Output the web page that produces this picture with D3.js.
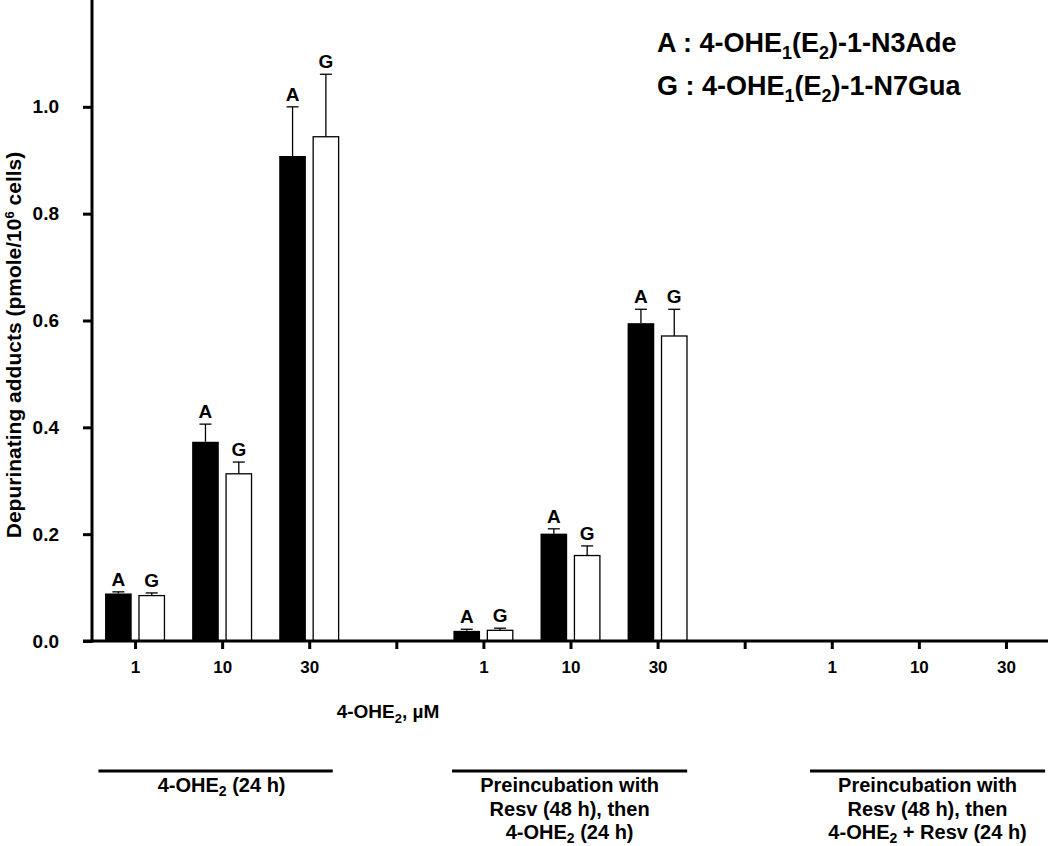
<!DOCTYPE html>
<html>
<head>
<meta charset="utf-8">
<script src="https://cdn.jsdelivr.net/npm/d3@7"></script>
<style>
  body { margin: 0; background: #fff; }
  text { font-family: "Liberation Sans", Arial, sans-serif; font-weight: bold; fill: #000; }
</style>
</head>
<body>
<div id="chart"></div>
<script>
// Data
const treatments = ["4-OHE2 (24 h)", "Resv (48 h) then 4-OHE2 (24 h)", "Resv (48 h) then 4-OHE2 + Resv (24 h)"];
const doses = ["1", "10", "30"];
const adenine = [0.089, 0.373, 0.908, 0.019, 0.201, 0.595, 0, 0, 0];
const adenineErr = [0.003, 0.033, 0.092, 0.003, 0.009, 0.026, 0, 0, 0];
const guanine = [0.085, 0.313, 0.944, 0.020, 0.160, 0.571, 0, 0, 0];
const guanineErr = [0.005, 0.022, 0.117, 0.004, 0.018, 0.050, 0, 0, 0];
const yTicks = [0, 0.2, 0.4, 0.6, 0.8, 1.0];

const w = 1050, h = 846;
const y0 = 641;      // x axis position
const xAxisLeft = 83;

const svg = d3.select("#chart")
  .append("svg")
  .attr("width", w)
  .attr("height", h);

svg.append("rect").attr("width", w).attr("height", h).attr("fill", "#fff");

// tick slots: 3 doses per treatment, one empty separator slot between treatments
const slots = [];
treatments.forEach((t, gi) => {
  doses.forEach((d, di) => slots.push({ label: d, group: gi, idx: gi * 4 + di }));
  if (gi < treatments.length - 1) slots.push({ label: "", group: gi, idx: gi * 4 + 3 });
});

const xScale = d3.scaleLinear().domain([-0.5, 10.5]).range([91.5, 1049.5]);
const yScale = d3.scaleLinear().domain([0, 1.2]).range([y0, 0]);
const inner = d3.scaleBand().domain(["A", "G"]).range([-30, 30]).paddingInner(0.2);

// bars data
const bars = [];
adenine.forEach((v, i) => {
  const gi = Math.floor(i / 3), di = i % 3;
  const pos = gi * 4 + di;
  if (v > 0) bars.push({ key: "A", pos, v, e: adenineErr[i] });
  if (guanine[i] > 0) bars.push({ key: "G", pos, v: guanine[i], e: guanineErr[i] });
});

// bars
svg.selectAll("rect.bar")
  .data(bars)
  .enter()
  .append("rect")
  .attr("class", "bar")
  .attr("x", d => xScale(d.pos) + inner(d.key) + (d.key === "G" ? 0.6 : 0))
  .attr("y", d => yScale(d.v))
  .attr("width", d => inner.bandwidth() - (d.key === "G" ? 1.2 : 0))
  .attr("height", d => y0 - yScale(d.v))
  .attr("fill", d => d.key === "A" ? "#000" : "#fff")
  .attr("stroke", "#000")
  .attr("stroke-width", d => d.key === "A" ? 0 : 1.3);

// error bars (upper only)
const errG = svg.append("g").attr("stroke", "#000").attr("stroke-width", 1.3);
bars.forEach(d => {
  const cx = xScale(d.pos) + inner(d.key) + inner.bandwidth() / 2;
  errG.append("line")
    .attr("x1", cx).attr("x2", cx)
    .attr("y1", yScale(d.v)).attr("y2", yScale(d.v + d.e));
  errG.append("line")
    .attr("x1", cx - 6).attr("x2", cx + 6)
    .attr("y1", yScale(d.v + d.e)).attr("y2", yScale(d.v + d.e));
});

// A / G letters above each bar
svg.selectAll("text.barlbl")
  .data(bars)
  .enter()
  .append("text")
  .attr("class", "barlbl")
  .attr("x", d => xScale(d.pos) + inner(d.key) + inner.bandwidth() / 2)
  .attr("y", d => yScale(d.v + d.e) - 6)
  .attr("text-anchor", "middle")
  .style("font-size", "19px")
  .text(d => d.key);

// Y axis
const yAxis = d3.axisLeft(yScale)
  .tickValues(yTicks)
  .tickFormat(d3.format(".1f"))
  .tickSize(9)
  .tickPadding(24);
const gy = svg.append("g")
  .attr("transform", "translate(92,0)")
  .call(yAxis);
gy.select(".domain").remove();
gy.selectAll(".tick line").attr("stroke", "#000").attr("stroke-width", 3);
gy.selectAll(".tick text").style("font-size", "19px").attr("font-family", null);

// X axis
const xAxis = d3.axisBottom(xScale)
  .tickValues(slots.map(s => s.idx))
  .tickFormat(i => slots.find(s => s.idx === i).label)
  .tickSize(8)
  .tickPadding(12);
const gx = svg.append("g")
  .attr("transform", `translate(0,${y0})`)
  .call(xAxis);
gx.select(".domain").remove();
gx.selectAll(".tick line").attr("stroke", "#000").attr("stroke-width", 3);
gx.selectAll(".tick text").style("font-size", "17px").attr("font-family", null);

// axis lines
svg.append("line")
  .attr("x1", 92).attr("x2", 92).attr("y1", 0).attr("y2", y0 + 1.5)
  .attr("stroke", "#000").attr("stroke-width", 3);
svg.append("line")
  .attr("x1", xAxisLeft).attr("x2", 1048).attr("y1", y0).attr("y2", y0)
  .attr("stroke", "#000").attr("stroke-width", 3);

// Y axis title
const yt = svg.append("text")
  .attr("transform", "translate(21,345) rotate(-90)")
  .attr("text-anchor", "middle")
  .style("font-size", "21px");
yt.append("tspan").text("Depurinating adducts (pmole/10");
yt.append("tspan").attr("dy", -7).style("font-size", "13px").text("6");
yt.append("tspan").attr("dy", 7).text(" cells)");

// X axis title
const xt = svg.append("text")
  .attr("x", 388).attr("y", 718)
  .attr("text-anchor", "middle")
  .style("font-size", "19px");
xt.append("tspan").text("4-OHE");
xt.append("tspan").attr("dy", 5).style("font-size", "13px").text("2");
xt.append("tspan").attr("dy", -5).text(", \u00b5M");

// Legend
const legendItems = [
  { key: "A", tail: ")-1-N3Ade" },
  { key: "G", tail: ")-1-N7Gua" }
];
legendItems.forEach((d, i) => {
  const t = svg.append("text")
    .attr("x", 657).attr("y", 52 + i * 43)
    .style("font-size", "27px");
  t.append("tspan").text(d.key + " : 4-OHE");
  t.append("tspan").attr("dy", 7).style("font-size", "18px").text("1");
  t.append("tspan").attr("dy", -7).text("(E");
  t.append("tspan").attr("dy", 7).style("font-size", "18px").text("2");
  t.append("tspan").attr("dy", -7).text(d.tail);
});

// Treatment group brackets and captions
const groupLines = [[-0.42, 2.27], [3.64, 6.34], [7.75, 10.45]];
const groupCaptions = [
  [["4-OHE", "2", " (24 h)"]],
  [["Preincubation with"], ["Resv (48 h), then"], ["4-OHE", "2", " (24 h)"]],
  [["Preincubation with"], ["Resv (48 h), then"], ["4-OHE", "2", " + Resv (24 h)"]]
];
groupLines.forEach((g, gi) => {
  const x1 = xScale(g[0]), x2 = xScale(g[1]);
  svg.append("line")
    .attr("x1", x1).attr("x2", x2).attr("y1", 771).attr("y2", 771)
    .attr("stroke", "#000").attr("stroke-width", 3);
  const cx = (x1 + x2) / 2 + (gi === 0 ? 6 : 0);
  groupCaptions[gi].forEach((line, li) => {
    const t = svg.append("text")
      .attr("x", cx).attr("y", 792 + li * 23.5)
      .attr("text-anchor", "middle")
      .style("font-size", "20px");
    t.append("tspan").text(line[0]);
    if (line.length > 1) {
      t.append("tspan").attr("dy", 4).style("font-size", "14px").text(line[1]);
      t.append("tspan").attr("dy", -4).text(line[2]);
    }
  });
});
</script>
</body>
</html>
